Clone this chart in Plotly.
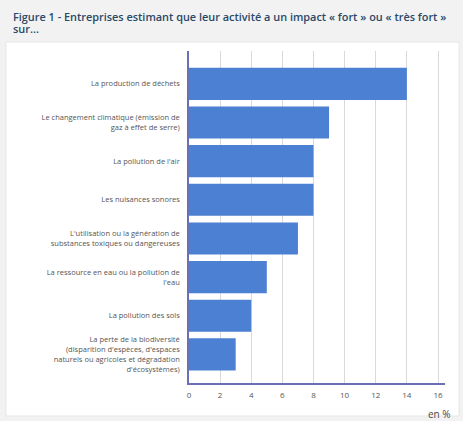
import plotly.graph_objects as go

# categories (top to bottom) and shares in %
categories = [
    "La production de déchets",
    "Le changement climatique (émission de<br>gaz à effet de serre)",
    "La pollution de l'air",
    "Les nuisances sonores",
    "L'utilisation ou la génération de<br>substances toxiques ou dangereuses",
    "La ressource en eau ou la pollution de<br>l'eau",
    "La pollution des sols",
    "La perte de la biodiversité<br>(disparition d'espèces, d'espaces<br>naturels ou agricoles et dégradation<br>d'écosystèmes)",
]
values = [14, 9, 8, 8, 7, 5, 4, 3]
x_ticks = [0, 2, 4, 6, 8, 10, 12, 14, 16]

title_line1 = "Figure 1 - Entreprises estimant que leur activité a un impact « fort » ou « très fort »"
title_line2 = "sur..."

fig = go.Figure(go.Bar(
    x=values, y=categories, orientation="h",
    marker=dict(color="#4c80d2", line=dict(width=0)),
    hoverinfo="x+y",
))

title_font = dict(family="Open Sans", size=10.9, color="#2a4868", weight=600)

# plot area: x 189..445 px, y 51..383 px
fig.update_layout(
    width=463, height=421,
    margin=dict(l=189, r=18, t=51, b=38),
    paper_bgcolor="#f2f2f2",
    plot_bgcolor="white",
    bargap=0.17,
    showlegend=False,
    font=dict(family="Open Sans", size=7.5, color="#555555"),
    xaxis=dict(
        range=[0, 16.45], tickvals=x_ticks, showgrid=True, gridcolor="#d9d9d9", gridwidth=1,
        zeroline=False, showline=True, linecolor="#6b6fb5", linewidth=1.5,
        ticks="", ticklabelstandoff=4, tickfont=dict(size=8, color="#555555"), fixedrange=True,
    ),
    yaxis=dict(
        range=[7.74, -0.85], showgrid=False, zeroline=False, showline=True,
        linecolor="#6b6fb5", linewidth=1.5, ticks="", ticklabelstandoff=6,
        tickfont=dict(size=7.5, color="#555555"), fixedrange=True,
    ),
    shapes=[dict(
        type="rect", xref="paper", yref="paper", layer="below",
        x0=-0.715, x1=1.055, y0=-0.0994, y1=1.027,
        fillcolor="white", line=dict(color="#e6e6e6", width=1),
    )],
    annotations=[
        dict(text=title_line1, xref="paper", yref="paper", x=-0.697, y=1.134,
             xanchor="left", yanchor="top", align="left", showarrow=False, font=title_font),
        dict(text=title_line2, xref="paper", yref="paper", x=-0.697, y=1.097,
             xanchor="left", yanchor="top", align="left", showarrow=False, font=title_font),
        dict(text="en %", xref="paper", yref="paper", x=1.03, y=-0.065,
             xanchor="right", yanchor="top", showarrow=False,
             font=dict(family="Open Sans", size=10, color="#444444")),
    ],
)

fig.write_html("out.html", config={"displayModeBar": False},
               post_script="document.body.style.margin='0';")
